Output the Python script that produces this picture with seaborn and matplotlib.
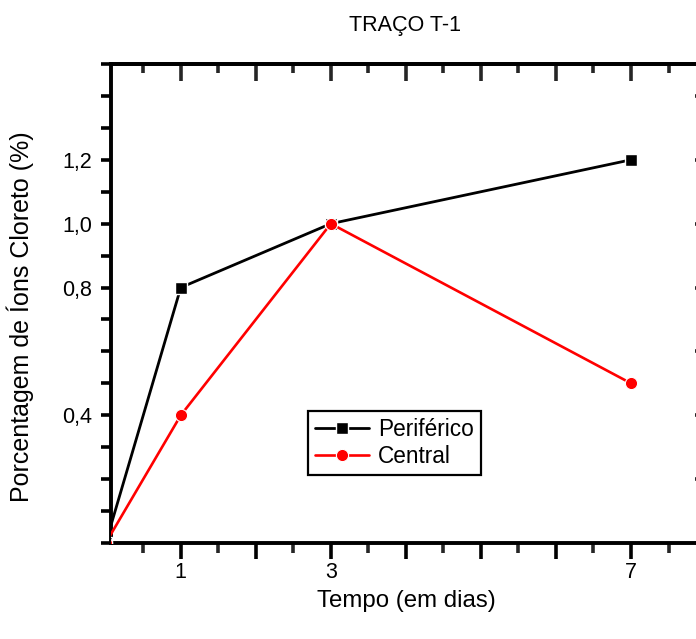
import matplotlib
matplotlib.use("Agg")
import matplotlib.pyplot as plt
import matplotlib.ticker as mticker
import seaborn as sns
import pandas as pd

# ---- data ----
days = [0, 1, 3, 7]
periferico = [0.0, 0.8, 1.0, 1.2]
central = [0.0, 0.4, 1.0, 0.5]
series_names = ["Periférico", "Central"]
x_labeled_ticks = [1, 3, 7]
y_labeled_ticks = [0.4, 0.8, 1.0, 1.2]
title = "TRAÇO T-1"
x_label = "Tempo (em dias)"
y_label = "Porcentagem de Íons Cloreto (%)"

sns.set_theme(style="ticks")
plt.rcParams['font.family'] = ['Liberation Sans', 'DejaVu Sans']
plt.rcParams['text.color'] = 'black'

W, H = 696, 639
fig = plt.figure(figsize=(W / 100, H / 100), dpi=100)
left_px, right_px, top_px, bottom_px = 111, 701, 64, 543
ax = fig.add_axes([left_px / W, 1 - bottom_px / H,
                   (right_px - left_px) / W, (bottom_px - top_px) / H])

df = pd.DataFrame({"dias": days, "per": periferico, "cen": central})

sns.lineplot(data=df, x="dias", y="per", ax=ax, color="black", lw=2.0,
             marker="s", markersize=9.0, markeredgecolor="white",
             markeredgewidth=1.0, label=series_names[0], zorder=3)
sns.lineplot(data=df, x="dias", y="cen", ax=ax, color="red", lw=1.9,
             marker="o", markersize=8.8, markeredgecolor="white",
             markeredgewidth=0.8, label=series_names[1], zorder=4)

ax.set_xlim(0.07, 7.933)
ax.set_ylim(0, 1.5)

SPW = 2.8
for s in ax.spines.values():
    s.set_linewidth(SPW)
    s.set_color("black")

# x axis (bottom)
ax.xaxis.set_major_locator(mticker.MultipleLocator(1))
ax.xaxis.set_minor_locator(mticker.MultipleLocator(0.5))
ax.xaxis.set_major_formatter(mticker.FuncFormatter(
    lambda v, p: str(int(round(v))) if int(round(v)) in x_labeled_ticks else ""))
ax.tick_params(axis="x", which="major", direction="out", length=11.5, width=2.6,
               pad=2.5, labelsize=15.5, colors="black", top=False)
ax.tick_params(axis="x", which="minor", direction="out", length=7.5, width=2.6,
               top=False)

# y axis (left)
ax.yaxis.set_major_locator(mticker.MultipleLocator(0.1))
ax.yaxis.set_minor_locator(mticker.NullLocator())


def yfmt(v, p):
    for t in y_labeled_ticks:
        if abs(v - t) < 1e-6:
            return f"{t:.1f}".replace(".", ",")
    return ""


ax.yaxis.set_major_formatter(mticker.FuncFormatter(yfmt))
ax.tick_params(axis="y", which="major", direction="out", length=7.2, width=2.6,
               pad=6.5, labelsize=15.5, colors="black", right=False)

# top axis ticks (inward)
sec_top = ax.secondary_xaxis("top")
sec_top.xaxis.set_major_locator(mticker.MultipleLocator(1))
sec_top.xaxis.set_minor_locator(mticker.MultipleLocator(0.5))
sec_top.xaxis.set_major_formatter(mticker.NullFormatter())
sec_top.tick_params(axis="x", which="major", direction="in", length=12, width=2.6)
sec_top.tick_params(axis="x", which="minor", direction="in", length=6.5, width=2.6)
sec_top.spines["top"].set_linewidth(SPW)

# right axis ticks (inward)
sec_right = ax.secondary_yaxis("right")
sec_right.yaxis.set_major_locator(mticker.MultipleLocator(0.2))
sec_right.yaxis.set_major_formatter(mticker.NullFormatter())
sec_right.tick_params(axis="y", which="major", direction="in", length=4.5, width=2.6)
sec_right.spines["right"].set_linewidth(SPW)

ax.set_xlabel(x_label, fontsize=17.3, color="black")
ax.set_ylabel(y_label, fontsize=18, color="black")
ax.xaxis.set_label_coords(0.5, (bottom_px - 590) / (bottom_px - top_px))
ax.yaxis.set_label_coords((34 - left_px) / (right_px - left_px),
                          (bottom_px - 317) / (bottom_px - top_px))

fig.text(405 / W, 1 - 25 / H, title, ha="center", va="center", fontsize=15.5,
         color="black")

leg = ax.legend(loc="upper left", bbox_to_anchor=(308 / W, 1 - 411 / H),
                bbox_transform=fig.transFigure, fontsize=16.3, frameon=True,
                fancybox=False, borderaxespad=0, borderpad=0.3,
                labelspacing=0.2, handlelength=2.4, handletextpad=0.4,
                edgecolor="black", labelcolor="black")
leg.get_frame().set_linewidth(1.6)
leg.get_frame().set_alpha(1)

fig.savefig("out.png", dpi=100)
